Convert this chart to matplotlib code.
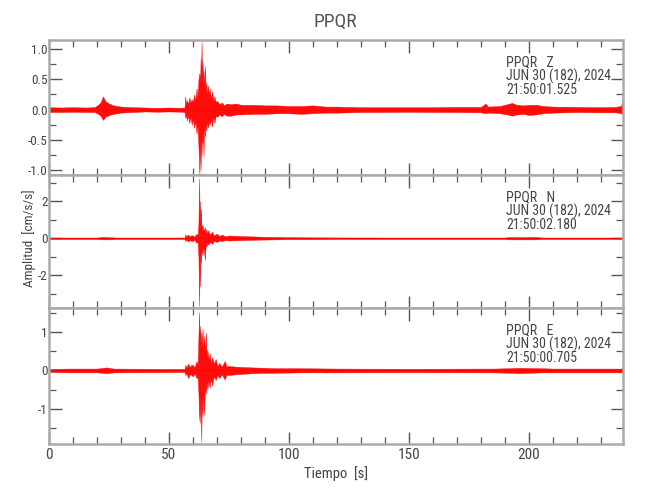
import matplotlib
matplotlib.use("Agg")
import matplotlib.pyplot as plt
from matplotlib.ticker import MultipleLocator, FixedLocator
from matplotlib import font_manager

names = {f.name for f in font_manager.fontManager.ttflist}
FONT = "DejaVu Sans"
for cand in ["Liberation Sans Narrow", "Roboto Condensed", "Open Sans Condensed", "DejaVu Sans"]:
    if cand in names:
        FONT = cand
        break
plt.rcParams["font.family"] = [FONT, "DejaVu Sans"]
plt.rcParams["font.stretch"] = "condensed"

station = "PPQR"
x_label = "Tiempo  [s]"
y_label = "Amplitud  [cm/s/s]"
channels = ["Z", "N", "E"]
dates = ["JUN 30 (182), 2024"] * 3
start_times = ["21:50:01.525", "21:50:02.180", "21:50:00.705"]

# Envelope of each trace: time (s), upper, lower
z_t = [0, 5, 10, 15, 19, 20.5, 21.5, 22.5, 23.5, 25, 27, 30, 35, 40, 45, 50, 55,
       56.5, 56.8, 57.1, 57.5, 58.0, 58.5, 59.0, 59.5, 60.0, 60.5, 61.0, 61.5, 61.9, 62.3, 62.7,
       63.0, 63.2, 63.4, 63.6, 63.8, 64.0, 64.2, 64.4, 64.7, 65.0, 65.3, 65.6, 66.0, 66.3, 66.7,
       67.0, 67.5, 68, 68.5, 69, 69.5, 70, 71, 72, 73, 74,
       76, 78, 80, 85, 90, 95, 100, 105, 110, 115, 120, 130, 140, 150, 160,
       170, 180, 182, 183, 188, 191, 193, 195, 198, 200, 203, 206, 210, 220, 230, 236, 238.5, 239.2]
z_up = [0.04, 0.035, 0.04, 0.035, 0.04, 0.08, 0.12, 0.22, 0.14, 0.10, 0.07, 0.05, 0.04, 0.035,
        0.03, 0.035, 0.03,
        0.035, 0.22, 0.10, 0.15, 0.09, 0.20, 0.12, 0.17, 0.12, 0.25, 0.15, 0.35, 0.20, 0.50, 0.60,
        0.45, 0.85, 0.50, 1.12, 0.55, 0.80, 0.45, 0.65, 0.40, 0.72, 0.30, 0.45, 0.25, 0.40, 0.20,
        0.35, 0.18, 0.30, 0.15, 0.22, 0.12, 0.15, 0.09, 0.12, 0.07, 0.10,
        0.09, 0.10, 0.08, 0.08, 0.07, 0.07, 0.06, 0.06, 0.07, 0.05, 0.05, 0.04, 0.04, 0.04, 0.04,
        0.045, 0.045, 0.10, 0.05, 0.06, 0.09, 0.11, 0.08, 0.07, 0.08, 0.08, 0.06, 0.05, 0.045,
        0.04, 0.045, 0.06, 0.18]
z_lo = [-0.04, -0.04, -0.035, -0.04, -0.04, -0.07, -0.10, -0.17, -0.12, -0.09, -0.07, -0.05,
        -0.04, -0.03, -0.035, -0.03, -0.035,
        -0.04, -0.14, -0.08, -0.18, -0.10, -0.22, -0.12, -0.25, -0.15, -0.30, -0.18, -0.40, -0.25,
        -0.60, -1.08, -0.50, -1.00, -0.45, -0.75, -0.40, -0.55, -0.35, -0.78, -0.30, -0.45, -0.25,
        -0.35, -0.20, -0.30, -0.18, -0.25, -0.15, -0.28, -0.12, -0.22, -0.10, -0.12, -0.08, -0.11,
        -0.07, -0.10,
        -0.10, -0.08, -0.08, -0.07, -0.07, -0.06, -0.06, -0.07, -0.06, -0.05, -0.05,
        -0.04, -0.04, -0.035, -0.04, -0.04, -0.045, -0.06, -0.05, -0.06, -0.08, -0.10, -0.08,
        -0.07, -0.09, -0.08, -0.06, -0.05, -0.04, -0.045, -0.045, -0.06, -0.08]

n_t = [0, 20, 22, 25, 28, 56.5, 56.8, 57.2, 58, 58.6, 59.3, 60, 60.6, 61.5, 62.0, 62.3, 62.6,
       62.8, 62.9, 63.1, 63.3, 63.6, 64.0, 64.4, 65.0, 65.3, 65.6, 66.0, 66.5, 67.0, 68, 68.7, 70,
       71, 72, 73.5, 75, 80, 85, 90, 100, 110, 120, 150, 190, 192, 197, 203, 206, 239.2]
n_up = [0.04, 0.04, 0.07, 0.06, 0.04, 0.04, 0.22, 0.10, 0.20, 0.10, 0.16, 0.15, 0.08, 0.25, 0.15,
        0.8, 3.24, 1.2, 2.0, 0.9, 1.6, 0.6, 0.72, 0.4, 0.6, 0.3, 0.5, 0.25, 0.45, 0.2, 0.35, 0.15,
        0.25, 0.12, 0.2, 0.10, 0.15, 0.12, 0.10, 0.08, 0.06, 0.05, 0.045, 0.04, 0.04, 0.07, 0.06,
        0.07, 0.04, 0.04]
n_lo = [-0.04, -0.04, -0.06, -0.06, -0.04, -0.04, -0.15, -0.08, -0.18, -0.10, -0.14, -0.15, -0.08,
        -0.25, -0.20, -1.0, -3.66, -1.5, -2.6, -1.0, -1.4, -0.6, -0.9, -0.5, -1.17, -0.35, -0.45,
        -0.25, -0.35, -0.2, -0.3, -0.15, -0.2, -0.12, -0.15, -0.10, -0.12, -0.10, -0.08, -0.07,
        -0.05, -0.05, -0.04, -0.04, -0.04, -0.06, -0.06, -0.06, -0.04, -0.04]

e_t = [0, 8, 20, 24, 27, 56.5, 56.8, 57.3, 58, 58.7, 59.4, 60, 60.7, 61.5, 62.0, 62.3, 62.6, 62.8,
       63.0, 63.2, 63.5, 63.7, 64.0, 64.3, 64.6, 65.0, 65.4, 65.7, 66.0, 66.5, 67, 67.5, 68, 68.7,
       69.5, 70.2, 71, 72, 73.3, 74, 74.5, 78, 85, 95, 105, 120, 150, 185, 192, 196, 205, 210,
       238.5, 239.2]
e_up = [0.04, 0.05, 0.05, 0.08, 0.05, 0.04, 0.15, 0.08, 0.18, 0.09, 0.15, 0.14, 0.08, 0.25, 0.15,
        0.9, 1.53, 0.7, 1.17, 0.6, 1.0, 0.6, 1.1, 0.5, 0.9, 0.5, 1.0, 0.35, 0.55, 0.3, 0.45, 0.2,
        0.35, 0.18, 0.3, 0.12, 0.2, 0.10, 0.25, 0.10, 0.12, 0.10, 0.08, 0.06, 0.06, 0.05, 0.045,
        0.05, 0.06, 0.07, 0.06, 0.05, 0.05, 0.08]
e_lo = [-0.04, -0.05, -0.05, -0.07, -0.05, -0.04, -0.12, -0.08, -0.2, -0.10, -0.12, -0.16, -0.08,
        -0.2, -0.18, -0.6, -1.3, -0.7, -1.38, -0.8, -1.87, -0.7, -1.2, -0.6, -1.16, -0.5, -0.6,
        -0.3, -0.5, -0.25, -0.45, -0.2, -0.4, -0.15, -0.25, -0.12, -0.2, -0.10, -0.24, -0.10,
        -0.12, -0.10, -0.07, -0.06, -0.05, -0.05, -0.045, -0.05, -0.06, -0.07, -0.05, -0.05,
        -0.05, -0.06]

traces = [(z_t, z_up, z_lo), (n_t, n_up, n_lo), (e_t, e_up, e_lo)]
x_range = (0, 239.3)
y_ranges = [(-1.08, 1.15), (-3.77, 3.42), (-1.93, 1.64)]
y_major = [[-1.0, -0.5, 0.0, 0.5, 1.0], [-2, 0, 2], [-1, 0, 1]]
y_minor = [0.25, 1.0, 0.5]
y_fmt = ["{:.1f}", "{:.0f}", "{:.0f}"]

W, H = 650, 500
fig = plt.figure(figsize=(W / 100, H / 100), dpi=100)
left_px, right_px = 49, 623
panel_px = [(40, 175), (175, 308), (308, 444)]
spine_c = "#aaaaaa"
txt_c = "#444444"

for i, (top, bot) in enumerate(panel_px):
    ax = fig.add_axes((left_px / W, 1 - bot / H, (right_px - left_px) / W, (bot - top) / H))
    t, up, lo = traces[i]
    ax.fill_between(t, lo, up, color="red", lw=0.3, alpha=0.95)
    ax.plot([x_range[0], x_range[1]], [0, 0], color="red", lw=0.6)
    ax.set_xlim(*x_range)
    ax.set_ylim(*y_ranges[i])
    ax.xaxis.set_major_locator(MultipleLocator(50))
    ax.xaxis.set_minor_locator(MultipleLocator(10))
    ax.yaxis.set_major_locator(FixedLocator(y_major[i]))
    ax.yaxis.set_minor_locator(MultipleLocator(y_minor[i]))
    ax.set_yticklabels([y_fmt[i].format(v) for v in y_major[i]])
    for s in ax.spines.values():
        s.set_color(spine_c)
        s.set_linewidth(1.8)
    ax.tick_params(which="both", direction="in", top=True, right=True, colors="#555555",
                   labelcolor=txt_c)
    ax.tick_params(axis="y", labelsize=9.5, pad=1)
    ax.tick_params(axis="x", labelsize=11, pad=3)
    ax.tick_params(which="major", length=9, width=1.0)
    ax.tick_params(which="minor", length=5, width=0.9)
    if i < 2:
        ax.tick_params(labelbottom=False)
    hpx = bot - top
    for k, line in enumerate([f"{station}   {channels[i]}", dates[i], start_times[i]]):
        base_px = 26 + 14.2 * k
        ax.text(0.796, 1 - base_px / hpx, line, transform=ax.transAxes,
                fontsize=10, color=txt_c, va="baseline", ha="left")
    if i == 2:
        ax.set_xlabel(x_label, fontsize=10.5, color=txt_c, labelpad=3)

fig.text(0.516, 1 - 21.5 / H, station, ha="center", va="center", fontsize=14, color="#555555")
fig.text(29 / W, 1 - 238 / H, y_label, ha="center", va="center", rotation=90,
         fontsize=9.5, color=txt_c)
fig.savefig("out.png", dpi=100)
